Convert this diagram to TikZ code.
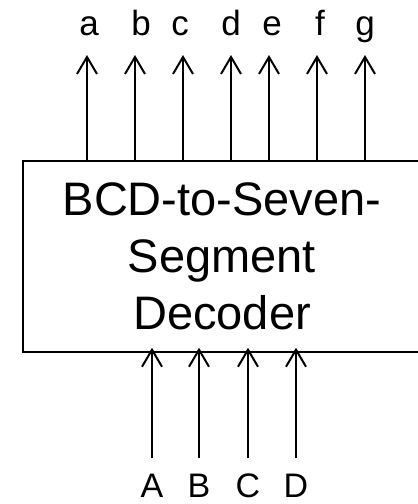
\documentclass[tikz,border=0pt]{standalone}
\usepackage{fontspec}
\setmainfont{Liberation Sans}
\usetikzlibrary{arrows.meta,calc}
\tikzset{
    decoder diagram/.style = {x=1pt, y=-1pt,
                              >={Straight Barb[length=17pt, width=20pt]}},
    block/.style           = {draw, line width=1.5pt, inner sep=0pt,
                              align=center,
                              font=\fontsize{47}{57}\selectfont},
    wire/.style            = {->, line width=2pt},
    outlabel/.style        = {anchor=base, inner sep=0pt,
                              font=\fontsize{35}{40}\selectfont},
    inlabel/.style         = {anchor=base, inner sep=0pt, text depth=0pt,
                              font=\fontsize{34}{40}\selectfont}
}
\begin{document}
\begin{tikzpicture}[decoder diagram]
\useasboundingbox (0,0) rectangle (418,504);

% ================= Decoder block =================
\node[block, minimum width=398pt, minimum height=191pt] (dec) at (222,256.5)
    {BCD-to-Seven-\\Segment\\Decoder};

% ================= Segment outputs =================
\foreach \x/\lx/\n in {87/89/a, 135/141/b, 183/180/c, 231/231/d,
                       269/272/e, 317/320/f, 365/365/g}{
    \node[outlabel] (\n) at (\lx,35) {\n};
    \coordinate (\n tip) at (\x,55);
    \draw[wire] (\n tip |- dec.north) -- (\n tip);
}

% ================= BCD inputs =================
\foreach \x/\n in {152/A, 199/B, 248/C, 296/D}{
    \node[inlabel] (\n) at (\x,497) {\n};
    \coordinate (\n tail) at (\x,458);
    \draw[wire] (\n tail) -- ($(\n tail |- dec.south)+(0,-5)$);
}

\end{tikzpicture}
\end{document}
